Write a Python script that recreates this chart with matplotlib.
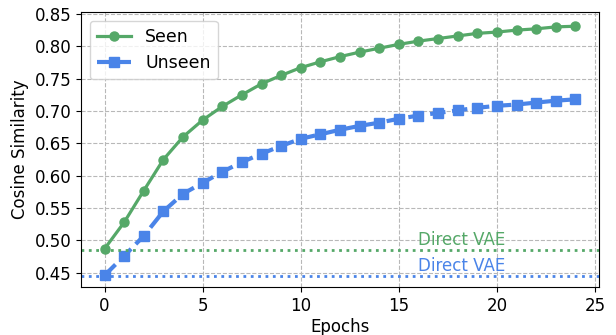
import numpy as np
import matplotlib
matplotlib.use('Agg')
import matplotlib.pyplot as plt

# values
epochs = list(range(25))
seen = [0.487, 0.528, 0.577, 0.625, 0.660, 0.686, 0.707, 0.725, 0.742, 0.755,
        0.767, 0.776, 0.784, 0.791, 0.797, 0.803, 0.808, 0.812, 0.816, 0.820,
        0.822, 0.825, 0.827, 0.830, 0.831]
unseen = [0.446, 0.476, 0.507, 0.545, 0.572, 0.589, 0.606, 0.621, 0.634, 0.646,
          0.657, 0.664, 0.671, 0.677, 0.682, 0.688, 0.693, 0.697, 0.701, 0.705,
          0.708, 0.710, 0.713, 0.716, 0.718]
direct_seen = 0.485
direct_unseen = 0.445

green = '#55a868'
blue = '#4a84e8'

fig = plt.figure(figsize=(6.16, 3.35), dpi=100)
ax = fig.add_subplot(111)
fig.subplots_adjust(left=81/616, right=599/616, top=1-12/335, bottom=1-287/335)

ax.plot(epochs, seen, '-o', color=green, lw=2.3, ms=6.5, label='Seen')
ax.plot(epochs, unseen, '--s', color=blue, lw=3, ms=7, label='Unseen')

# baselines
ax.axhline(direct_seen, color=green, ls=':', lw=2)
ax.axhline(direct_unseen, color=blue, ls=':', lw=2)
ax.text(16, direct_seen + 0.001, 'Direct VAE', color=green, fontsize=12, va='bottom')
ax.text(16, direct_unseen + 0.001, 'Direct VAE', color=blue, fontsize=12, va='bottom')

ax.set_xlim(-1.2, 25.2)
ax.set_ylim(0.428, 0.853)
ax.set_xticks([0, 5, 10, 15, 20, 25])
ax.set_yticks(np.arange(0.45, 0.851, 0.05))
ax.tick_params(labelsize=12)
ax.set_xlabel('Epochs', fontsize=12, labelpad=2)
ax.set_ylabel('Cosine Similarity', fontsize=12)
ax.grid(True, ls='--', color='#b8b8b8', lw=0.8)
ax.legend(loc='upper left', fontsize=12.5)

fig.savefig('out.png', dpi=100)
